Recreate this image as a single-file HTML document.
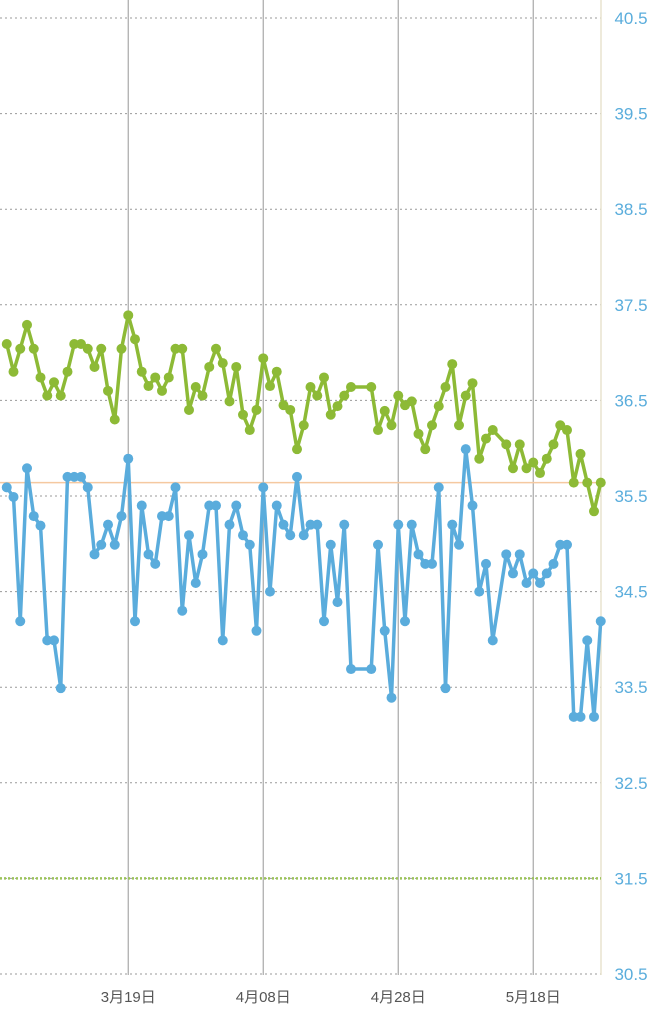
<!DOCTYPE html>
<html><head><meta charset="utf-8"><style>
html,body{margin:0;padding:0;background:#fff;}
svg{display:block;font-family:"Liberation Sans","Noto Sans CJK JP",sans-serif;}
</style></head><body>
<svg id="chart" width="661" height="1024" viewBox="0 0 661 1024" xmlns="http://www.w3.org/2000/svg">
<g id="grid"></g>
<g id="ylabels"></g>
<g id="xlabels"></g>
<g id="series"></g>
</svg>
<script>
const yTicks = [40.5,39.5,38.5,37.5,36.5,35.5,34.5,33.5,32.5,31.5,30.5];
const xTickDays = [19,39,59,79];
const xTickLabels = ["3月19日","4月08日","4月28日","5月18日"];
const days = [1,2,3,4,5,6,7,8,9,10,11,12,13,14,15,16,17,18,19,20,21,22,23,24,25,26,27,28,29,30,31,32,33,34,35,36,37,38,39,40,41,42,43,44,45,46,47,48,49,50,51,52,
55,56,57,58,59,60,61,62,63,64,65,66,67,68,69,70,71,72,73,
75,76,77,78,79,80,81,82,83,84,85,86,87,88,89];
const greenValues = [37.09,36.80,37.04,37.29,37.04,36.74,36.55,36.69,36.55,36.80,37.09,37.09,37.04,36.85,37.04,36.60,36.30,37.04,37.39,37.14,36.80,36.65,36.74,36.60,36.74,37.04,37.04,36.40,36.64,36.55,36.85,37.04,36.89,36.49,36.85,36.35,36.19,36.40,36.94,36.65,36.80,36.45,36.40,35.99,36.24,36.64,36.55,36.74,36.35,36.44,36.55,36.64,
36.64,36.19,36.39,36.24,36.55,36.45,36.49,36.15,35.99,36.24,36.44,36.64,36.88,36.24,36.55,36.68,35.89,36.10,36.19,
36.04,35.79,36.04,35.79,35.85,35.74,35.89,36.04,36.24,36.19,35.64,35.94,35.64,35.34,35.64];
const blueValues = [35.59,35.49,34.19,35.79,35.29,35.19,33.99,33.99,33.49,35.70,35.70,35.70,35.59,34.89,34.99,35.20,34.99,35.29,35.89,34.19,35.40,34.89,34.79,35.29,35.29,35.59,34.30,35.09,34.59,34.89,35.40,35.40,33.99,35.20,35.40,35.09,34.99,34.09,35.59,34.50,35.40,35.20,35.09,35.70,35.09,35.20,35.20,34.19,34.99,34.39,35.20,33.69,
33.69,34.99,34.09,33.39,35.20,34.19,35.20,34.89,34.79,34.79,35.59,33.49,35.20,34.99,35.99,35.40,34.50,34.79,33.99,
34.89,34.69,34.89,34.59,34.69,34.59,34.69,34.79,34.99,34.99,33.19,33.19,33.99,33.19,34.19];
const refOrange = 35.64;
const refGreen = 31.5;

const NS="http://www.w3.org/2000/svg";
const y = v => 18 + (40.5 - v) * 95.6;
const x = d => d * 6.75;
function mk(tag, attrs, parent){const e=document.createElementNS(NS,tag);for(const k in attrs)e.setAttribute(k,attrs[k]);parent.appendChild(e);return e;}
const grid=document.getElementById('grid'), yl=document.getElementById('ylabels'), xl=document.getElementById('xlabels'), ser=document.getElementById('series');

yTicks.forEach(t=>{
  const l=mk('line',{x1:0,x2:601,y1:y(t),y2:y(t),stroke:'#9a9a9a','stroke-width':1,'stroke-dasharray':'2,3'},grid);
  
  
  const tx=mk('text',{x:631,y:y(t)+6,'text-anchor':'middle','font-size':17,fill:'#5aaddc'},yl);
  tx.textContent=t.toFixed(1);
  
  
});
xTickDays.forEach((d,i)=>{
  const l=mk('line',{x1:x(d),x2:x(d),y1:0,y2:975,stroke:'#a8a8a8','stroke-width':1.2},grid);
  
  
  const tx=mk('text',{x:x(d),y:1002,'text-anchor':'middle','font-size':15,fill:'#555'},xl);
  tx.textContent=xTickLabels[i];
  
  
});
const ax=mk('line',{x1:601,x2:601,y1:0,y2:975,stroke:'#e8e3cf','stroke-width':1.5},grid);


const ro=mk('line',{x1:0,x2:601,y1:y(refOrange),y2:y(refOrange),stroke:'#f5c9a0','stroke-width':1.5},grid);


const rg=mk('line',{x1:0,x2:601,y1:y(refGreen),y2:y(refGreen),stroke:'#9cc45a','stroke-width':2.5,'stroke-dasharray':'2,2'},grid);



function drawSeries(vals,color,name){
  const g=mk('g',{},ser);
  
  
  const pts=vals.map((v,i)=>x(days[i])+','+y(v)).join(' ');
  const pl=mk('polyline',{points:pts,fill:'none',stroke:color,'stroke-width':3.5,'stroke-linejoin':'round'},g);
  
  
  vals.forEach((v,i)=>{
    const c=mk('circle',{cx:x(days[i]),cy:y(v),r:5,fill:color},g);
    
    
  });
}
drawSeries(greenValues,'#8dba36','green-series');
drawSeries(blueValues,'#5aacdc','blue-series');
</script>
</body></html>
